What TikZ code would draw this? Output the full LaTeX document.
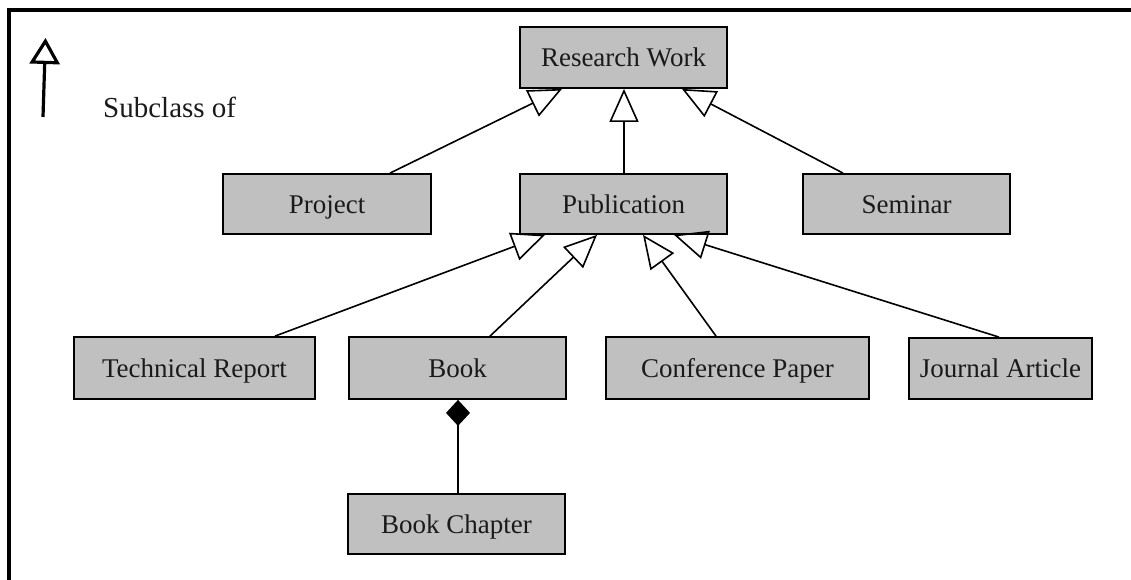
\documentclass[tikz,border=0pt]{standalone}
\usepackage{fontspec}
\setmainfont{Liberation Serif}
\usetikzlibrary{arrows.meta,calc}
\definecolor{boxfill}{HTML}{C0C0C0}
\definecolor{ink}{HTML}{1A1A1A}
\tikzset{
  cls/.style={draw=black, fill=boxfill, line width=1.8pt, text=ink,
    font=\fontsize{27}{30}\selectfont, inner sep=0pt, minimum height=61pt,
    text height=20pt, text depth=2pt},
  inh/.style={line width=1.6pt, -{Triangle[open, length=33pt, width=29pt]}},
  comp/.style={line width=1.6pt, -{Diamond[length=26pt, width=24pt, fill=black]}},
  frame/.style={line width=4pt}
}
\begin{document}
\begin{tikzpicture}[x=1pt,y=-1pt]
\useasboundingbox (0,0) rectangle (1131,580);
% open frame around the diagram
\draw[frame] (9,620) -- (9,10) -- (1160,10);

% legend
\coordinate (lgtail) at (43,117);
\coordinate (lghead) at (45.5,38);
\draw[line width=3.2pt, -{Triangle[open, length=26pt, width=30pt]}] (lgtail) -- (lghead);
\node[anchor=base west, text=ink, font=\fontsize{29}{32}\selectfont, inner sep=0pt] (lgtext) at (103,118) {Subclass of};

% classes
\node[cls, minimum width=207pt] (rw)   at (623.5,57.5) {Research Work};
\node[cls, minimum width=208pt, minimum height=60pt] (proj) at (327,204) {Project};
\node[cls, minimum width=207pt, minimum height=60pt] (pub)  at (623.5,204) {Publication};
\node[cls, minimum width=207pt, minimum height=60pt] (sem)  at (906.5,204) {Seminar};
\node[cls, minimum width=241pt, minimum height=62pt] (tr)   at (194.5,368) {Technical Report};
\node[cls, minimum width=217pt, minimum height=62pt] (book) at (457.5,368) {Book};
\node[cls, minimum width=263pt, minimum height=62pt] (conf) at (737.5,368) {Conference Paper};
\node[cls, minimum width=183pt] (ja)   at (1000.5,368.5) {Journal Article};
\node[cls, minimum width=217pt, minimum height=60pt] (bc)   at (456.5,524) {Book Chapter};

% subclass links
\draw[inh] ($(proj.north)+(63,0)$)   -- ($(rw.south)+(-61.5,0)$);
\draw[inh] ($(pub.north)+(0.5,0)$)   -- ($(rw.south)+(0.5,0)$);
\draw[inh] ($(sem.north)+(-63.5,0)$) -- ($(rw.south)+(58.5,0)$);
\draw[inh] ($(tr.north)+(80.5,0)$)   -- ($(pub.south)+(-78.5,0)$);
\draw[inh] ($(book.north)+(32.5,0)$) -- ($(pub.south)+(-26.5,0)$);
\draw[inh] ($(conf.north)+(-21.5,0)$) -- ($(pub.south)+(19.5,0)$);
\draw[inh] ($(ja.north)+(-1.5,0)$)   -- ($(pub.south)+(50.5,0)$);

% composition
\draw[comp] ($(bc.north)+(1.5,0)$) -- ($(book.south)+(0.5,0)$);
\end{tikzpicture}
\end{document}
